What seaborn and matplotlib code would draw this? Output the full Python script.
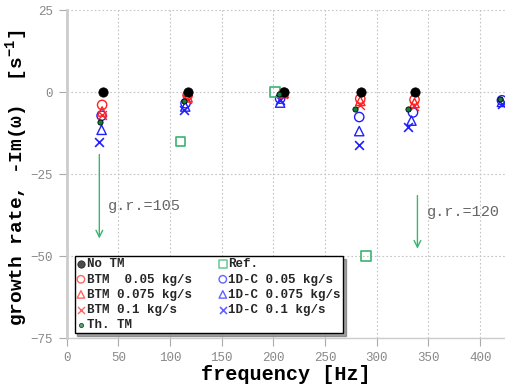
import matplotlib
matplotlib.use("Agg")
import matplotlib.pyplot as plt
import seaborn as sns
import pandas as pd

# ---- data ----
notm_f = [34.9, 117.4, 210.4, 284.9, 337.4]
notm_g = [0.0, 0.0, 0.0, 0.0, 0.0]

btm005_f = [34.3, 117.0, 210.0, 284.0, 336.5]
btm005_g = [-3.9, -1.0, -0.2, -2.0, -2.3]
btm0075_f = [34.3, 117.0, 210.0, 284.0, 336.5]
btm0075_g = [-5.9, -1.6, -0.3, -2.7, -3.3]
btm01_f = [33.8, 116.5, 209.5, 283.5, 336.0]
btm01_g = [-6.9, -2.2, -0.5, -4.0, -4.3]

thtm_f = [32.3, 113.9, 205.8, 278.7, 329.7, 419.4]
thtm_g = [-9.0, -2.7, -0.6, -5.2, -5.1, -2.0]

ref_f = [110.0, 201.6, 289.4]
ref_g = [-15.0, 0.0, -50.0]

c1d005_f = [33.8, 115.0, 206.5, 283.0, 335.0, 421.0]
c1d005_g = [-7.2, -3.4, -2.0, -7.6, -6.2, -2.5]
c1d0075_f = [33.8, 114.7, 206.5, 283.0, 333.5, 421.0]
c1d0075_g = [-11.5, -4.4, -3.2, -11.9, -8.7, -3.0]
c1d01_f = [31.0, 113.5, 206.0, 282.5, 330.0, 421.0]
c1d01_g = [-15.3, -5.4, -2.5, -16.2, -10.7, -3.5]

x_ticks = [0, 50, 100, 150, 200, 250, 300, 350, 400]
y_ticks = [-75, -50, -25, 0, 25]

arrow_x = [31.6, 339.3]
arrow_y_start = [-18.2, -30.7]
arrow_y_end = [-45.5, -48.6]
gr_labels = ["g.r.=105", "g.r.=120"]
gr_x = [40.0, 348.4]
gr_y = [-34.8, -36.5]

# ---- style ----
sns.set_theme(style="white")
mono = ["Liberation Mono", "DejaVu Sans Mono"]
plt.rcParams["font.family"] = mono
plt.rcParams["mathtext.fontset"] = "custom"
plt.rcParams["mathtext.rm"] = "Liberation Mono"
plt.rcParams["mathtext.bf"] = "Liberation Mono:bold"

fig = plt.figure(figsize=(5.05, 3.89), dpi=100)
ax = fig.add_axes([0.132, 0.131, 0.868, 0.843])

RED = "#ff2020"
BLUE = "#2020ff"
GREEN = "#3cb371"

def scat(f, g, label, **kw):
    df = pd.DataFrame({"f": f, "g": g})
    sns.scatterplot(data=df, x="f", y="g", ax=ax, label=label, legend=False, **kw)

scat(notm_f, notm_g, "No TM", marker="o", s=45, color="black", edgecolor="black", zorder=5)
scat(btm005_f, btm005_g, "BTM  0.05 kg/s", marker="o", s=45, facecolor="none", edgecolor=RED, linewidth=1.0, zorder=4)
scat(btm0075_f, btm0075_g, "BTM 0.075 kg/s", marker="^", s=45, facecolor="none", edgecolor=RED, linewidth=1.0, zorder=4)
scat(btm01_f, btm01_g, "BTM 0.1 kg/s", marker="x", s=40, color=RED, linewidth=1.0, zorder=4)
scat(thtm_f, thtm_g, "Th. TM", marker="o", s=14, color="#10803a", edgecolor="black", linewidth=0.6, zorder=6)
scat(ref_f, ref_g, "Ref.", marker="s", s=45, facecolor="none", edgecolor=GREEN, linewidth=1.2, zorder=4)
scat(c1d005_f, c1d005_g, "1D-C 0.05 kg/s", marker="o", s=45, facecolor="none", edgecolor=BLUE, linewidth=1.0, zorder=3)
scat(c1d0075_f, c1d0075_g, "1D-C 0.075 kg/s", marker="^", s=45, facecolor="none", edgecolor=BLUE, linewidth=1.0, zorder=3)
scat(c1d01_f, c1d01_g, "1D-C 0.1 kg/s", marker="x", s=40, color=BLUE, linewidth=1.2, zorder=3)

for xa, ys, ye in zip(arrow_x, arrow_y_start, arrow_y_end):
    ax.annotate("", xy=(xa, ye), xytext=(xa, ys),
                arrowprops=dict(arrowstyle="->", color=GREEN, lw=1.0))
for t, xt, yt in zip(gr_labels, gr_x, gr_y):
    ax.text(xt, yt, t, fontsize=11, color="#666666", va="center", ha="left", family=mono)

ax.set_xlim(0, 424)
ax.set_ylim(-75, 25)
ax.set_xticks(x_ticks)
ax.set_yticks(y_ticks)
ax.grid(True, color="#c4c4c4", linestyle=(0, (1.5, 2)), linewidth=0.8)
ax.tick_params(axis="both", colors="#aaaaaa", labelsize=9, length=6, width=0.8,
               direction="out", left=True, bottom=True, pad=4)
for lbl in ax.get_xticklabels() + ax.get_yticklabels():
    lbl.set_color("#888888")
for side in ["top", "right"]:
    ax.spines[side].set_visible(False)
ax.spines["left"].set_color("#cccccc")
ax.spines["left"].set_linewidth(2)
ax.spines["bottom"].set_color("#cccccc")
ax.spines["bottom"].set_linewidth(1)

ax.set_xlabel("frequency [Hz]", fontsize=14.5, fontweight="bold", color="black", labelpad=1)
ax.set_ylabel(r"growth rate, -Im(" + "\u03c9" + r")  [s$\mathbf{^{-1}}$]", fontsize=14,
              fontweight="bold", color="black")
ax.yaxis.set_label_coords(-0.084, 0.49)

leg = ax.legend(loc="lower left", bbox_to_anchor=(0.004, -0.005), ncol=2,
                shadow=True, fancybox=False, frameon=True, fontsize=9,
                handlelength=0.6, handletextpad=0.15, columnspacing=2.2,
                labelspacing=0.25, borderpad=0.2, markerscale=0.8)
leg.get_frame().set_edgecolor("black")
leg.get_frame().set_linewidth(1.0)
for t in leg.get_texts():
    t.set_fontweight("bold")
    t.set_family(mono)
for h in leg.legend_handles:
    h.set_alpha(0.7)

fig.savefig("out.png", dpi=100)
